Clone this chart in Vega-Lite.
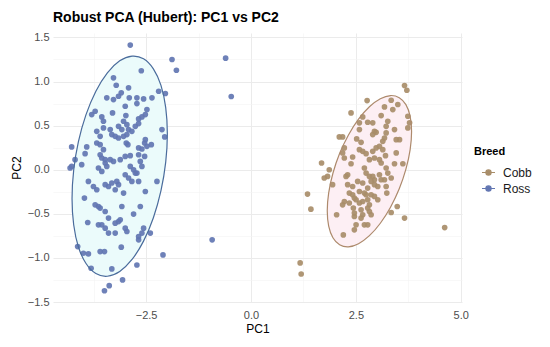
{
  "$schema": "https://vega.github.io/schema/vega-lite/v6.json",
  "width": 409,
  "height": 269,
  "autosize": {"type": "none"},
  "padding": {"left": 53, "top": 33, "right": 88, "bottom": 45},
  "background": "white",
  "title": {"text": "Robust PCA (Hubert): PC1 vs PC2", "anchor": "start", "frame": "group", "font": "Liberation Sans", "fontSize": 14, "fontWeight": "bold", "color": "#000000", "offset": 6},
  "config": {
    "view": {"stroke": null},
    "font": "Liberation Sans",
    "axis": {"domain": false, "ticks": false, "labelFont": "Liberation Sans", "labelFontSize": 11, "labelColor": "#4d4d4d", "titleFont": "Liberation Sans", "titleFontSize": 12, "titleFontWeight": "normal", "titleColor": "#000000"}
  },
  "datasets": {
    "pts": [
      {"Breed":"Ross","PC1":-2.878,"PC2":1.413},{"Breed":"Ross","PC1":-1.883,"PC2":1.25},{"Breed":"Ross","PC1":-1.778,"PC2":1.128},{"Breed":"Ross","PC1":-2.615,"PC2":1.122},{"Breed":"Ross","PC1":-3.278,"PC2":1.042},{"Breed":"Ross","PC1":-3.213,"PC2":0.958},{"Breed":"Ross","PC1":-2.201,"PC2":0.89},{"Breed":"Ross","PC1":-2.041,"PC2":0.864},{"Breed":"Ross","PC1":-2.919,"PC2":0.928},{"Breed":"Ross","PC1":-3.093,"PC2":0.872},
      {"Breed":"Ross","PC1":-3.158,"PC2":0.833},{"Breed":"Ross","PC1":-3.438,"PC2":0.815},{"Breed":"Ross","PC1":-3.278,"PC2":0.795},{"Breed":"Ross","PC1":-2.902,"PC2":0.815},{"Breed":"Ross","PC1":-2.72,"PC2":0.815},{"Breed":"Ross","PC1":-2.56,"PC2":0.803},{"Breed":"Ross","PC1":-2.361,"PC2":0.815},{"Breed":"Ross","PC1":-2.998,"PC2":0.719},{"Breed":"Ross","PC1":-2.72,"PC2":0.75},{"Breed":"Ross","PC1":-2.481,"PC2":0.682},
      {"Breed":"Ross","PC1":-3.797,"PC2":0.625},{"Breed":"Ross","PC1":-3.715,"PC2":0.663},{"Breed":"Ross","PC1":-3.557,"PC2":0.599},{"Breed":"Ross","PC1":-3.517,"PC2":0.549},{"Breed":"Ross","PC1":-3.517,"PC2":0.474},{"Breed":"Ross","PC1":-3.301,"PC2":0.644},{"Breed":"Ross","PC1":-2.983,"PC2":0.614},{"Breed":"Ross","PC1":-3.038,"PC2":0.549},{"Breed":"Ross","PC1":-2.959,"PC2":0.511},{"Breed":"Ross","PC1":-2.679,"PC2":0.576},
      {"Breed":"Ross","PC1":-2.6,"PC2":0.599},{"Breed":"Ross","PC1":-2.519,"PC2":0.625},{"Breed":"Ross","PC1":-3.158,"PC2":0.492},{"Breed":"Ross","PC1":-3.079,"PC2":0.455},{"Breed":"Ross","PC1":-2.919,"PC2":0.455},{"Breed":"Ross","PC1":-2.84,"PC2":0.435},{"Breed":"Ross","PC1":-3.677,"PC2":0.435},{"Breed":"Ross","PC1":-3.596,"PC2":0.378},{"Breed":"Ross","PC1":-3.356,"PC2":0.455},{"Breed":"Ross","PC1":-3.318,"PC2":0.398},
      {"Breed":"Ross","PC1":-2.758,"PC2":0.492},{"Breed":"Ross","PC1":-2.679,"PC2":0.523},{"Breed":"Ross","PC1":-2.122,"PC2":0.455},{"Breed":"Ross","PC1":-2.057,"PC2":0.372},{"Breed":"Ross","PC1":-3.237,"PC2":0.378},{"Breed":"Ross","PC1":-3.158,"PC2":0.36},{"Breed":"Ross","PC1":-3.038,"PC2":0.378},{"Breed":"Ross","PC1":-2.959,"PC2":0.398},{"Breed":"Ross","PC1":-2.974,"PC2":0.303},{"Breed":"Ross","PC1":-2.935,"PC2":0.284},
      {"Breed":"Ross","PC1":-2.519,"PC2":0.341},{"Breed":"Ross","PC1":-2.536,"PC2":0.303},{"Breed":"Ross","PC1":-3.677,"PC2":0.303},{"Breed":"Ross","PC1":-3.596,"PC2":0.284},{"Breed":"Ross","PC1":-2.376,"PC2":0.284},{"Breed":"Ross","PC1":-4.275,"PC2":0.258},{"Breed":"Ross","PC1":-3.916,"PC2":0.258},{"Breed":"Ross","PC1":-3.955,"PC2":0.182},{"Breed":"Ross","PC1":-4.194,"PC2":0.114},{"Breed":"Ross","PC1":-3.517,"PC2":0.227},
      {"Breed":"Ross","PC1":-3.596,"PC2":0.17},{"Breed":"Ross","PC1":-3.557,"PC2":0.133},{"Breed":"Ross","PC1":-3.476,"PC2":0.114},{"Breed":"Ross","PC1":-3.356,"PC2":0.114},{"Breed":"Ross","PC1":-3.278,"PC2":0.094},{"Breed":"Ross","PC1":-3.117,"PC2":0.114},{"Breed":"Ross","PC1":-2.998,"PC2":0.151},{"Breed":"Ross","PC1":-2.878,"PC2":0.159},{"Breed":"Ross","PC1":-2.679,"PC2":0.247},{"Breed":"Ross","PC1":-2.6,"PC2":0.235},
      {"Breed":"Ross","PC1":-2.481,"PC2":0.265},{"Breed":"Ross","PC1":-2.679,"PC2":0.17},{"Breed":"Ross","PC1":-2.536,"PC2":0.151},{"Breed":"Ross","PC1":-4.275,"PC2":0.037},{"Breed":"Ross","PC1":-4.036,"PC2":0.057},{"Breed":"Ross","PC1":-4.313,"PC2":0.019},{"Breed":"Ross","PC1":-3.636,"PC2":0.019},{"Breed":"Ross","PC1":-3.557,"PC2":-0.019},{"Breed":"Ross","PC1":-2.799,"PC2":0.0},{"Breed":"Ross","PC1":-2.758,"PC2":-0.038},
      {"Breed":"Ross","PC1":-2.639,"PC2":0.094},{"Breed":"Ross","PC1":-2.6,"PC2":0.037},{"Breed":"Ross","PC1":-2.878,"PC2":0.037},{"Breed":"Ross","PC1":-3.438,"PC2":0.037},{"Breed":"Ross","PC1":-3.476,"PC2":0.076},{"Breed":"Ross","PC1":-3.876,"PC2":-0.133},{"Breed":"Ross","PC1":-3.756,"PC2":-0.19},{"Breed":"Ross","PC1":-3.677,"PC2":-0.227},{"Breed":"Ross","PC1":-3.476,"PC2":-0.17},{"Breed":"Ross","PC1":-3.397,"PC2":-0.19},
      {"Breed":"Ross","PC1":-3.318,"PC2":-0.151},{"Breed":"Ross","PC1":-3.199,"PC2":-0.133},{"Breed":"Ross","PC1":-3.158,"PC2":-0.17},{"Breed":"Ross","PC1":-3.237,"PC2":-0.227},{"Breed":"Ross","PC1":-2.998,"PC2":-0.057},{"Breed":"Ross","PC1":-2.919,"PC2":-0.094},{"Breed":"Ross","PC1":-2.84,"PC2":-0.133},{"Breed":"Ross","PC1":-3.038,"PC2":-0.265},{"Breed":"Ross","PC1":-2.72,"PC2":-0.038},{"Breed":"Ross","PC1":-2.679,"PC2":-0.133},
      {"Breed":"Ross","PC1":-2.242,"PC2":-0.133},{"Breed":"Ross","PC1":-2.519,"PC2":-0.247},{"Breed":"Ross","PC1":-3.971,"PC2":-0.322},{"Breed":"Ross","PC1":-3.715,"PC2":-0.398},{"Breed":"Ross","PC1":-3.636,"PC2":-0.417},{"Breed":"Ross","PC1":-3.596,"PC2":-0.435},{"Breed":"Ross","PC1":-3.476,"PC2":-0.474},{"Breed":"Ross","PC1":-3.079,"PC2":-0.417},{"Breed":"Ross","PC1":-2.639,"PC2":-0.417},{"Breed":"Ross","PC1":-2.799,"PC2":-0.503},
      {"Breed":"Ross","PC1":-3.892,"PC2":-0.599},{"Breed":"Ross","PC1":-3.636,"PC2":-0.625},{"Breed":"Ross","PC1":-3.557,"PC2":-0.625},{"Breed":"Ross","PC1":-3.476,"PC2":-0.663},{"Breed":"Ross","PC1":-3.397,"PC2":-0.719},{"Breed":"Ross","PC1":-3.397,"PC2":-0.549},{"Breed":"Ross","PC1":-3.237,"PC2":-0.606},{"Breed":"Ross","PC1":-3.158,"PC2":-0.588},{"Breed":"Ross","PC1":-3.117,"PC2":-0.568},{"Breed":"Ross","PC1":-2.998,"PC2":-0.663},
      {"Breed":"Ross","PC1":-2.959,"PC2":-0.701},{"Breed":"Ross","PC1":-3.237,"PC2":-0.719},{"Breed":"Ross","PC1":-2.56,"PC2":-0.663},{"Breed":"Ross","PC1":-2.6,"PC2":-0.719},{"Breed":"Ross","PC1":-2.679,"PC2":-0.758},{"Breed":"Ross","PC1":-2.679,"PC2":-0.795},{"Breed":"Ross","PC1":-2.4,"PC2":-0.719},{"Breed":"Ross","PC1":-4.132,"PC2":-0.872},{"Breed":"Ross","PC1":-3.995,"PC2":-0.947},{"Breed":"Ross","PC1":-3.876,"PC2":-0.955},
      {"Breed":"Ross","PC1":-3.596,"PC2":-0.928},{"Breed":"Ross","PC1":-3.493,"PC2":-0.928},{"Breed":"Ross","PC1":-3.093,"PC2":-0.878},{"Breed":"Ross","PC1":-2.098,"PC2":-0.966},{"Breed":"Ross","PC1":-2.72,"PC2":-1.08},{"Breed":"Ross","PC1":-3.811,"PC2":-1.117},{"Breed":"Ross","PC1":-3.318,"PC2":-1.125},{"Breed":"Ross","PC1":-3.062,"PC2":-1.25},{"Breed":"Ross","PC1":-3.38,"PC2":-1.315},{"Breed":"Ross","PC1":-3.493,"PC2":-1.372},
      {"Breed":"Ross","PC1":-0.926,"PC2":-0.795},{"Breed":"Ross","PC1":-0.605,"PC2":1.265},{"Breed":"Ross","PC1":-0.471,"PC2":0.83},
      {"Breed":"Cobb","PC1":3.66,"PC2":0.955},{"Breed":"Cobb","PC1":3.715,"PC2":0.901},{"Breed":"Cobb","PC1":2.768,"PC2":0.784},{"Breed":"Cobb","PC1":3.342,"PC2":0.788},{"Breed":"Cobb","PC1":3.5,"PC2":0.739},{"Breed":"Cobb","PC1":3.38,"PC2":0.682},{"Breed":"Cobb","PC1":3.182,"PC2":0.712},{"Breed":"Cobb","PC1":2.385,"PC2":0.644},{"Breed":"Cobb","PC1":2.663,"PC2":0.599},{"Breed":"Cobb","PC1":2.584,"PC2":0.531},
      {"Breed":"Cobb","PC1":3.103,"PC2":0.614},{"Breed":"Cobb","PC1":3.261,"PC2":0.549},{"Breed":"Cobb","PC1":3.222,"PC2":0.492},{"Breed":"Cobb","PC1":3.739,"PC2":0.606},{"Breed":"Cobb","PC1":3.78,"PC2":0.531},{"Breed":"Cobb","PC1":3.739,"PC2":0.474},{"Breed":"Cobb","PC1":2.782,"PC2":0.538},{"Breed":"Cobb","PC1":2.902,"PC2":0.531},{"Breed":"Cobb","PC1":2.584,"PC2":0.455},{"Breed":"Cobb","PC1":2.943,"PC2":0.435},
      {"Breed":"Cobb","PC1":2.983,"PC2":0.424},{"Breed":"Cobb","PC1":2.902,"PC2":0.398},{"Breed":"Cobb","PC1":3.222,"PC2":0.417},{"Breed":"Cobb","PC1":3.182,"PC2":0.36},{"Breed":"Cobb","PC1":3.141,"PC2":0.322},{"Breed":"Cobb","PC1":3.421,"PC2":0.455},{"Breed":"Cobb","PC1":3.462,"PC2":0.341},{"Breed":"Cobb","PC1":3.541,"PC2":0.341},{"Breed":"Cobb","PC1":2.105,"PC2":0.372},{"Breed":"Cobb","PC1":2.184,"PC2":0.372},
      {"Breed":"Cobb","PC1":2.519,"PC2":0.349},{"Breed":"Cobb","PC1":2.624,"PC2":0.31},{"Breed":"Cobb","PC1":2.225,"PC2":0.247},{"Breed":"Cobb","PC1":2.184,"PC2":0.19},{"Breed":"Cobb","PC1":2.584,"PC2":0.227},{"Breed":"Cobb","PC1":2.663,"PC2":0.208},{"Breed":"Cobb","PC1":2.744,"PC2":0.182},{"Breed":"Cobb","PC1":2.902,"PC2":0.208},{"Breed":"Cobb","PC1":2.983,"PC2":0.247},{"Breed":"Cobb","PC1":3.062,"PC2":0.265},
      {"Breed":"Cobb","PC1":3.141,"PC2":0.227},{"Breed":"Cobb","PC1":3.462,"PC2":0.19},{"Breed":"Cobb","PC1":2.225,"PC2":0.133},{"Breed":"Cobb","PC1":2.423,"PC2":0.144},{"Breed":"Cobb","PC1":2.385,"PC2":0.068},{"Breed":"Cobb","PC1":2.823,"PC2":0.114},{"Breed":"Cobb","PC1":2.943,"PC2":0.133},{"Breed":"Cobb","PC1":3.062,"PC2":0.114},{"Breed":"Cobb","PC1":3.103,"PC2":0.076},{"Breed":"Cobb","PC1":3.206,"PC2":0.159},
      {"Breed":"Cobb","PC1":3.421,"PC2":0.068},{"Breed":"Cobb","PC1":3.62,"PC2":0.068},{"Breed":"Cobb","PC1":1.682,"PC2":0.076},{"Breed":"Cobb","PC1":1.866,"PC2":0.0},{"Breed":"Cobb","PC1":1.825,"PC2":-0.076},{"Breed":"Cobb","PC1":1.746,"PC2":-0.094},{"Breed":"Cobb","PC1":2.266,"PC2":-0.076},{"Breed":"Cobb","PC1":2.304,"PC2":-0.057},{"Breed":"Cobb","PC1":2.703,"PC2":0.019},{"Breed":"Cobb","PC1":2.744,"PC2":-0.038},
      {"Breed":"Cobb","PC1":2.823,"PC2":-0.076},{"Breed":"Cobb","PC1":2.902,"PC2":-0.076},{"Breed":"Cobb","PC1":2.943,"PC2":-0.114},{"Breed":"Cobb","PC1":3.062,"PC2":-0.057},{"Breed":"Cobb","PC1":3.103,"PC2":-0.114},{"Breed":"Cobb","PC1":3.182,"PC2":-0.114},{"Breed":"Cobb","PC1":3.222,"PC2":0.019},{"Breed":"Cobb","PC1":3.261,"PC2":-0.038},{"Breed":"Cobb","PC1":3.342,"PC2":-0.094},{"Breed":"Cobb","PC1":1.945,"PC2":-0.17},
      {"Breed":"Cobb","PC1":2.304,"PC2":-0.17},{"Breed":"Cobb","PC1":2.423,"PC2":-0.19},{"Breed":"Cobb","PC1":2.543,"PC2":-0.133},{"Breed":"Cobb","PC1":2.663,"PC2":-0.151},{"Breed":"Cobb","PC1":2.864,"PC2":-0.133},{"Breed":"Cobb","PC1":2.943,"PC2":-0.17},{"Breed":"Cobb","PC1":3.022,"PC2":-0.19},{"Breed":"Cobb","PC1":3.222,"PC2":-0.19},{"Breed":"Cobb","PC1":3.237,"PC2":-0.265},{"Breed":"Cobb","PC1":2.782,"PC2":-0.208},
      {"Breed":"Cobb","PC1":1.347,"PC2":-0.276},{"Breed":"Cobb","PC1":2.344,"PC2":-0.265},{"Breed":"Cobb","PC1":2.423,"PC2":-0.284},{"Breed":"Cobb","PC1":2.464,"PC2":-0.322},{"Breed":"Cobb","PC1":2.584,"PC2":-0.247},{"Breed":"Cobb","PC1":2.703,"PC2":-0.265},{"Breed":"Cobb","PC1":2.744,"PC2":-0.284},{"Breed":"Cobb","PC1":2.864,"PC2":-0.284},{"Breed":"Cobb","PC1":2.943,"PC2":-0.303},{"Breed":"Cobb","PC1":3.022,"PC2":-0.341},
      {"Breed":"Cobb","PC1":2.184,"PC2":-0.398},{"Breed":"Cobb","PC1":2.225,"PC2":-0.36},{"Breed":"Cobb","PC1":2.344,"PC2":-0.378},{"Breed":"Cobb","PC1":2.505,"PC2":-0.341},{"Breed":"Cobb","PC1":2.584,"PC2":-0.378},{"Breed":"Cobb","PC1":2.663,"PC2":-0.36},{"Breed":"Cobb","PC1":2.782,"PC2":-0.341},{"Breed":"Cobb","PC1":2.823,"PC2":-0.398},{"Breed":"Cobb","PC1":1.428,"PC2":-0.447},{"Breed":"Cobb","PC1":2.041,"PC2":-0.511},
      {"Breed":"Cobb","PC1":2.44,"PC2":-0.435},{"Breed":"Cobb","PC1":2.464,"PC2":-0.492},{"Breed":"Cobb","PC1":2.464,"PC2":-0.531},{"Breed":"Cobb","PC1":2.624,"PC2":-0.455},{"Breed":"Cobb","PC1":2.663,"PC2":-0.511},{"Breed":"Cobb","PC1":2.624,"PC2":-0.549},{"Breed":"Cobb","PC1":2.782,"PC2":-0.435},{"Breed":"Cobb","PC1":2.823,"PC2":-0.474},{"Breed":"Cobb","PC1":2.864,"PC2":-0.511},{"Breed":"Cobb","PC1":2.505,"PC2":-0.625},
      {"Breed":"Cobb","PC1":2.703,"PC2":-0.625},{"Breed":"Cobb","PC1":2.782,"PC2":-0.625},{"Breed":"Cobb","PC1":3.342,"PC2":-0.485},{"Breed":"Cobb","PC1":3.486,"PC2":-0.417},{"Breed":"Cobb","PC1":3.66,"PC2":-0.549},{"Breed":"Cobb","PC1":2.464,"PC2":-0.682},{"Breed":"Cobb","PC1":2.201,"PC2":-0.739},{"Breed":"Cobb","PC1":4.617,"PC2":-0.656},{"Breed":"Cobb","PC1":1.172,"PC2":-1.057},{"Breed":"Cobb","PC1":1.196,"PC2":-1.182}
    ],
    "ell": [
      {"Breed":"Ross","i":0,"PC1":-1.994,"PC2":0.408},{"Breed":"Ross","i":1,"PC1":-2.033,"PC2":0.086},{"Breed":"Ross","i":2,"PC1":-2.146,"PC2":-0.238},{"Breed":"Ross","i":3,"PC1":-2.327,"PC2":-0.544},{"Breed":"Ross","i":4,"PC1":-2.562,"PC2":-0.81},{"Breed":"Ross","i":5,"PC1":-2.836,"PC2":-1.018},{"Breed":"Ross","i":6,"PC1":-3.13,"PC2":-1.154},{"Breed":"Ross","i":7,"PC1":-3.424,"PC2":-1.208},{"Breed":"Ross","i":8,"PC1":-3.698,"PC2":-1.178},{"Breed":"Ross","i":9,"PC1":-3.933,"PC2":-1.064},{"Breed":"Ross","i":10,"PC1":-4.114,"PC2":-0.876},{"Breed":"Ross","i":11,"PC1":-4.227,"PC2":-0.624},
      {"Breed":"Ross","i":12,"PC1":-4.266,"PC2":-0.328},{"Breed":"Ross","i":13,"PC1":-4.227,"PC2":-0.006},{"Breed":"Ross","i":14,"PC1":-4.114,"PC2":0.318},{"Breed":"Ross","i":15,"PC1":-3.933,"PC2":0.624},{"Breed":"Ross","i":16,"PC1":-3.698,"PC2":0.89},{"Breed":"Ross","i":17,"PC1":-3.424,"PC2":1.098},{"Breed":"Ross","i":18,"PC1":-3.13,"PC2":1.234},{"Breed":"Ross","i":19,"PC1":-2.836,"PC2":1.288},{"Breed":"Ross","i":20,"PC1":-2.562,"PC2":1.258},{"Breed":"Ross","i":21,"PC1":-2.327,"PC2":1.144},{"Breed":"Ross","i":22,"PC1":-2.146,"PC2":0.956},{"Breed":"Ross","i":23,"PC1":-2.033,"PC2":0.704},
      {"Breed":"Cobb","i":0,"PC1":3.828,"PC2":0.432},{"Breed":"Cobb","i":1,"PC1":3.794,"PC2":0.228},{"Breed":"Cobb","i":2,"PC1":3.693,"PC2":0.006},{"Breed":"Cobb","i":3,"PC1":3.534,"PC2":-0.217},{"Breed":"Cobb","i":4,"PC1":3.326,"PC2":-0.425},{"Breed":"Cobb","i":5,"PC1":3.083,"PC2":-0.607},{"Breed":"Cobb","i":6,"PC1":2.823,"PC2":-0.748},{"Breed":"Cobb","i":7,"PC1":2.563,"PC2":-0.839},{"Breed":"Cobb","i":8,"PC1":2.32,"PC2":-0.875},{"Breed":"Cobb","i":9,"PC1":2.112,"PC2":-0.851},{"Breed":"Cobb","i":10,"PC1":1.953,"PC2":-0.772},{"Breed":"Cobb","i":11,"PC1":1.852,"PC2":-0.64},
      {"Breed":"Cobb","i":12,"PC1":1.818,"PC2":-0.466},{"Breed":"Cobb","i":13,"PC1":1.852,"PC2":-0.262},{"Breed":"Cobb","i":14,"PC1":1.953,"PC2":-0.04},{"Breed":"Cobb","i":15,"PC1":2.112,"PC2":0.183},{"Breed":"Cobb","i":16,"PC1":2.32,"PC2":0.391},{"Breed":"Cobb","i":17,"PC1":2.563,"PC2":0.573},{"Breed":"Cobb","i":18,"PC1":2.823,"PC2":0.714},{"Breed":"Cobb","i":19,"PC1":3.083,"PC2":0.805},{"Breed":"Cobb","i":20,"PC1":3.326,"PC2":0.841},{"Breed":"Cobb","i":21,"PC1":3.534,"PC2":0.817},{"Breed":"Cobb","i":22,"PC1":3.693,"PC2":0.738},{"Breed":"Cobb","i":23,"PC1":3.794,"PC2":0.606}
    ]
  },
  "encoding": {
    "x": {"field": "PC1", "type": "quantitative", "scale": {"domain": [-4.72, 5.03], "nice": false, "zero": false},
      "axis": {"title": "PC1", "values": [-3.75, -2.5, -1.25, 0, 1.25, 2.5, 3.75, 5], "labelExpr": "datum.value % 2.5 == 0 ? format(datum.value, '.1f') : ''", "labelPadding": 7, "titlePadding": 3,
        "gridColor": {"condition": {"test": "datum.value % 2.5 == 0", "value": "#ebebeb"}, "value": "#f4f4f4"}, "gridWidth": {"condition": {"test": "datum.value % 2.5 == 0", "value": 1}, "value": 0.6}}},
    "y": {"field": "PC2", "type": "quantitative", "scale": {"domain": [-1.5, 1.55], "nice": false, "zero": false},
      "axis": {"title": "PC2", "values": [-1.5, -1.25, -1, -0.75, -0.5, -0.25, 0, 0.25, 0.5, 0.75, 1, 1.25, 1.5], "labelExpr": "datum.value % 0.5 == 0 ? format(datum.value, '.1f') : ''", "labelPadding": 4, "titlePadding": 4,
        "gridColor": {"condition": {"test": "datum.value % 0.5 == 0", "value": "#ebebeb"}, "value": "#f4f4f4"}, "gridWidth": {"condition": {"test": "datum.value % 0.5 == 0", "value": 1}, "value": 0.6}}}
  },
  "layer": [
    {
      "data": {"name": "ell"},
      "transform": [{"filter": "datum.Breed == 'Ross'"}],
      "mark": {"type": "line", "interpolate": "cardinal-closed", "strokeWidth": 0, "fill": "#ebfbfb"},
      "encoding": {"order": {"field": "i", "type": "quantitative"}}
    },
    {
      "data": {"name": "ell"},
      "transform": [{"filter": "datum.Breed == 'Cobb'"}],
      "mark": {"type": "line", "interpolate": "cardinal-closed", "strokeWidth": 0, "fill": "#fdeff4"},
      "encoding": {"order": {"field": "i", "type": "quantitative"}}
    },
    {
      "data": {"name": "pts"},
      "mark": {"type": "point", "filled": true, "size": 32, "opacity": 0.92},
      "encoding": {
        "color": {"field": "Breed", "type": "nominal", "scale": {"domain": ["Cobb", "Ross"], "range": ["#a88d69", "#6276b2"]},
          "legend": {"title": "Breed", "orient": "none", "legendX": 421, "legendY": 113, "titleFont": "Liberation Sans", "titleFontSize": 11, "titleFontWeight": "bold", "titleColor": "#000000", "labelFont": "Liberation Sans", "labelFontSize": 12, "labelColor": "#1a1a1a", "symbolType": "M-1,0L1,0M-0.4,0A0.4,0.4,0,1,0,0.4,0A0.4,0.4,0,1,0,-0.4,0Z", "symbolSize": 169, "symbolStrokeWidth": 1.2, "symbolOpacity": 1, "symbolOffset": 7, "labelOffset": 7, "rowPadding": 2, "titlePadding": 8,
            "encode": {"symbols": {"update": {"stroke": {"scale": "color", "field": "value"}}}}}}
      }
    },
    {
      "data": {"name": "ell"},
      "transform": [{"filter": "datum.Breed == 'Ross'"}],
      "mark": {"type": "line", "interpolate": "cardinal-closed", "strokeWidth": 1.2, "stroke": "#4a6c9c"},
      "encoding": {"order": {"field": "i", "type": "quantitative"}}
    },
    {
      "data": {"name": "ell"},
      "transform": [{"filter": "datum.Breed == 'Cobb'"}],
      "mark": {"type": "line", "interpolate": "cardinal-closed", "strokeWidth": 1.2, "stroke": "#ad8a6c"},
      "encoding": {"order": {"field": "i", "type": "quantitative"}}
    }
  ]
}
